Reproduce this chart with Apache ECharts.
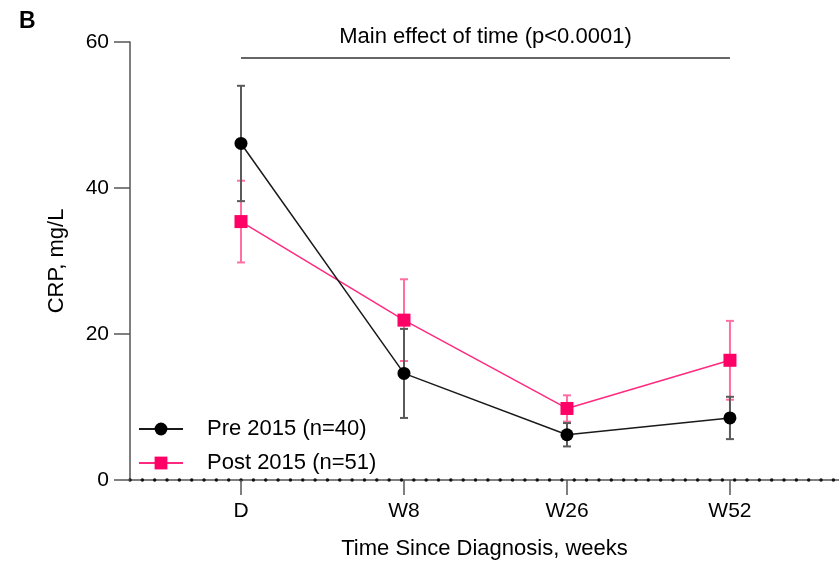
<!DOCTYPE html>
<html>
<head>
<meta charset="utf-8">
<script src="https://cdn.jsdelivr.net/npm/echarts@6/dist/echarts.min.js"></script>
<style>
  html, body { margin: 0; padding: 0; background: #fff; }
  #chart { width: 839px; height: 561px; }
</style>
</head>
<body>
<div id="chart"></div>
<script>
// Time points and CRP (mg/L), mean ± SEM per cohort
const categories = ['D', 'W8', 'W26', 'W52'];
const preMean  = [46.1, 14.6, 6.2, 8.5];
const preErr   = [7.9, 6.1, 1.6, 2.9];
const postMean = [35.4, 21.9, 9.8, 16.4];
const postErr  = [5.6, 5.6, 1.8, 5.4];
const yTicks = [0, 20, 40, 60];
const preName = 'Pre 2015 (n=40)';
const postName = 'Post 2015 (n=51)';
const bracketY = 57.8;
const bracketText = 'Main effect of time (p<0.0001)';

const FONT = '"Liberation Sans", Arial, sans-serif';
const tickIdx = categories.map((c, i) => i);

function points(means) {
  return means.map((m, i) => [i, m]);
}
function bars(means, errs) {
  return means.map((m, i) => [i, m - errs[i], m + errs[i]]);
}

// Vertical error bar with caps, positioned through the axes
function errorBar(color) {
  return function (params, api) {
    const x = api.value(0);
    const top = api.coord([x, api.value(2)]);
    const bot = api.coord([x, api.value(1)]);
    const half = 4;
    const style = { stroke: color, lineWidth: 2, fill: null };
    return {
      type: 'group',
      children: [
        { type: 'line', shape: { x1: top[0], y1: top[1], x2: bot[0], y2: bot[1] }, style },
        { type: 'line', shape: { x1: top[0] - half, y1: top[1], x2: top[0] + half, y2: top[1] }, style },
        { type: 'line', shape: { x1: bot[0] - half, y1: bot[1], x2: bot[0] + half, y2: bot[1] }, style }
      ]
    };
  };
}

const axisColor = '#555';
const xMin = -0.681, xMax = 3.669;

const chart = echarts.init(document.getElementById('chart'), null, { renderer: 'canvas' });
chart.setOption({
  animation: false,
  backgroundColor: '#fff',
  textStyle: { fontFamily: FONT },
  title: {
    text: 'B', left: 19, top: 10, padding: 0,
    textStyle: { fontSize: 23, fontWeight: 'bold', color: '#000', fontFamily: FONT }
  },
  legend: {
    orient: 'vertical', left: 138, top: 418, padding: 0,
    itemWidth: 44, itemHeight: 16, itemGap: 12,
    data: [preName, postName],
    textStyle: { fontSize: 22, color: '#000', fontFamily: FONT, padding: [0, 0, 0, 19] },
    selectedMode: false
  },
  grid: { left: 130, right: 0, top: 42, bottom: 81, containLabel: false, outerBoundsMode: 'none' },
  xAxis: [
    {
      type: 'value', min: xMin, max: xMax, position: 'bottom',
      axisLine: { show: true, onZero: false, lineStyle: { color: axisColor, width: 1.5 } },
      axisTick: { show: true, length: 15, customValues: tickIdx, lineStyle: { color: axisColor, width: 1.5 } },
      axisLabel: {
        show: true, customValues: tickIdx, margin: 21, fontSize: 21, color: '#000', fontFamily: FONT,
        formatter: v => categories[Math.round(v)]
      },
      splitLine: { show: false },
      name: 'Time Since Diagnosis, weeks', nameLocation: 'middle', nameGap: 58,
      nameTextStyle: { fontSize: 22, color: '#000', fontFamily: FONT }
    },
    {
      // dotted overlay along the baseline
      type: 'value', min: xMin, max: xMax, position: 'bottom',
      axisLine: { show: true, onZero: false, lineStyle: { color: '#111', width: 3.5, type: [0.01, 12.33], cap: 'round' } },
      axisTick: { show: false }, axisLabel: { show: false }, splitLine: { show: false }
    }
  ],
  yAxis: {
    type: 'value', min: yTicks[0], max: yTicks[yTicks.length - 1], interval: 20,
    axisLine: { show: true, onZero: false, lineStyle: { color: axisColor, width: 1.5 } },
    axisTick: { show: true, length: 16, lineStyle: { color: axisColor, width: 1.5 } },
    axisLabel: { margin: 21, fontSize: 21, color: '#000', fontFamily: FONT },
    splitLine: { show: false },
    name: 'CRP, mg/L', nameLocation: 'middle', nameRotate: 90, nameGap: 62,
    nameTextStyle: { fontSize: 22, color: '#000', fontFamily: FONT }
  },
  series: [
    {
      type: 'custom', name: postName + ' SEM', z: 2, silent: true,
      renderItem: errorBar('#ff6fa3'),
      encode: { x: 0, y: [1, 2] },
      data: bars(postMean, postErr)
    },
    {
      type: 'custom', name: preName + ' SEM', z: 3, silent: true,
      renderItem: errorBar('#5a5a5a'),
      encode: { x: 0, y: [1, 2] },
      data: bars(preMean, preErr)
    },
    {
      type: 'line', name: postName, z: 4, silent: true,
      data: points(postMean),
      symbol: 'rect', symbolSize: 13,
      itemStyle: { color: '#ff0066' },
      lineStyle: { color: '#ff2a7f', width: 1.5 },
      emphasis: { disabled: true }
    },
    {
      type: 'line', name: preName, z: 5, silent: true,
      data: points(preMean),
      symbol: 'circle', symbolSize: 13,
      itemStyle: { color: '#000' },
      lineStyle: { color: '#1a1a1a', width: 1.5 },
      emphasis: { disabled: true },
      markLine: {
        silent: true, symbol: ['none', 'none'], animation: false,
        lineStyle: { color: '#333', width: 1.5, type: 'solid' },
        label: { show: true, position: 'middle', formatter: bracketText, fontSize: 22, color: '#000', distance: 10, fontFamily: FONT },
        emphasis: { disabled: true },
        data: [[{ coord: [0, bracketY] }, { coord: [3, bracketY] }]]
      }
    }
  ]
});
</script>
</body>
</html>
